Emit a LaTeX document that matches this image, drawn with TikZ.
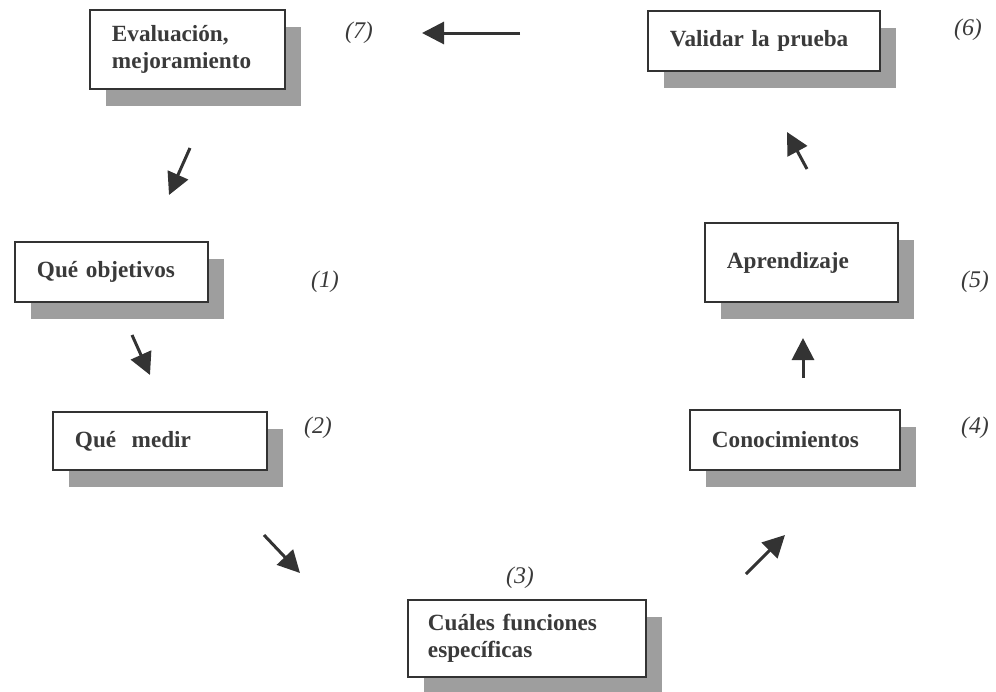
\documentclass[tikz,border=0pt]{standalone}
\usepackage{fontspec}
\setmainfont{Liberation Serif}
\usetikzlibrary{arrows.meta,shadows}
\definecolor{ink}{HTML}{333333}
\definecolor{txt}{HTML}{3A3A3A}
\definecolor{shade}{HTML}{9E9E9E}
\begin{document}
\begin{tikzpicture}[x=0.025cm,y=-0.025cm]
\tikzstyle{box}=[draw=ink, line width=0.07cm, fill=white, rectangle, inner xsep=0.55cm, inner ysep=0pt, align=left, text=txt, font=\fontsize{16.5}{19.5}\selectfont\bfseries, drop shadow={shadow xshift=0.4cm, shadow yshift=-0.42cm, fill=shade, opacity=1}]
\tikzstyle{num}=[text=txt, font=\fontsize{17}{18}\selectfont\itshape]
\tikzstyle{arrow}=[-{Triangle[length=0.55cm,width=0.55cm]}, draw=ink, line width=0.075cm]
\useasboundingbox (0,0) rectangle (996,692);

\node[box, text width=3.775cm, minimum height=1.975cm] (b7) at (187.5,49.5) {Evaluación,\\mejoramiento};
\node[box, text width=4.7cm, minimum height=1.5cm] (b6) at (764,41) {Validar la prueba};
\node[box, text width=3.725cm, minimum height=1.5cm] (b1) at (111.5,272) {Qué objetivos};
\node[box, text width=4.25cm, minimum height=1.45cm] (b2) at (160,441) {Qué~ medir};
\node[box, text width=4.95cm, minimum height=1.925cm, inner xsep=0.5cm] (b3) at (527,638.5) {Cuáles funciones\\específicas};
\node[box, text width=4.15cm, minimum height=1.5cm] (b4) at (795,440) {Conocimientos};
\node[box, text width=3.725cm, minimum height=1.975cm] (b5) at (801.5,262.5) {Aprendizaje\\[0.6cm]};

\node[num] (l7) at (359,33) {(7)};
\node[num] (l6) at (968,30) {(6)};
\node[num] (l1) at (325,282) {(1)};
\node[num] (l2) at (318,428) {(2)};
\node[num] (l3) at (520,578) {(3)};
\node[num] (l4) at (975,428) {(4)};
\node[num] (l5) at (975,282) {(5)};

\coordinate (a7s) at (520,33);
\coordinate (a7e) at (422,33);
\coordinate (a1s) at (190,148);
\coordinate (a1e) at (169,195);
\coordinate (a2s) at (132,335);
\coordinate (a2e) at (150,375);
\coordinate (a3s) at (264,535);
\coordinate (a3e) at (300,573);
\coordinate (a4s) at (746,574);
\coordinate (a4e) at (785,535);
\coordinate (a5s) at (803,378);
\coordinate (a5e) at (803,338);
\coordinate (a6s) at (807,169);
\coordinate (a6e) at (787,132);

\draw[arrow] (a7s) -- (a7e);
\draw[arrow] (a1s) -- (a1e);
\draw[arrow] (a2s) -- (a2e);
\draw[arrow] (a3s) -- (a3e);
\draw[arrow] (a4s) -- (a4e);
\draw[arrow] (a5s) -- (a5e);
\draw[arrow] (a6s) -- (a6e);
\end{tikzpicture}
\end{document}
